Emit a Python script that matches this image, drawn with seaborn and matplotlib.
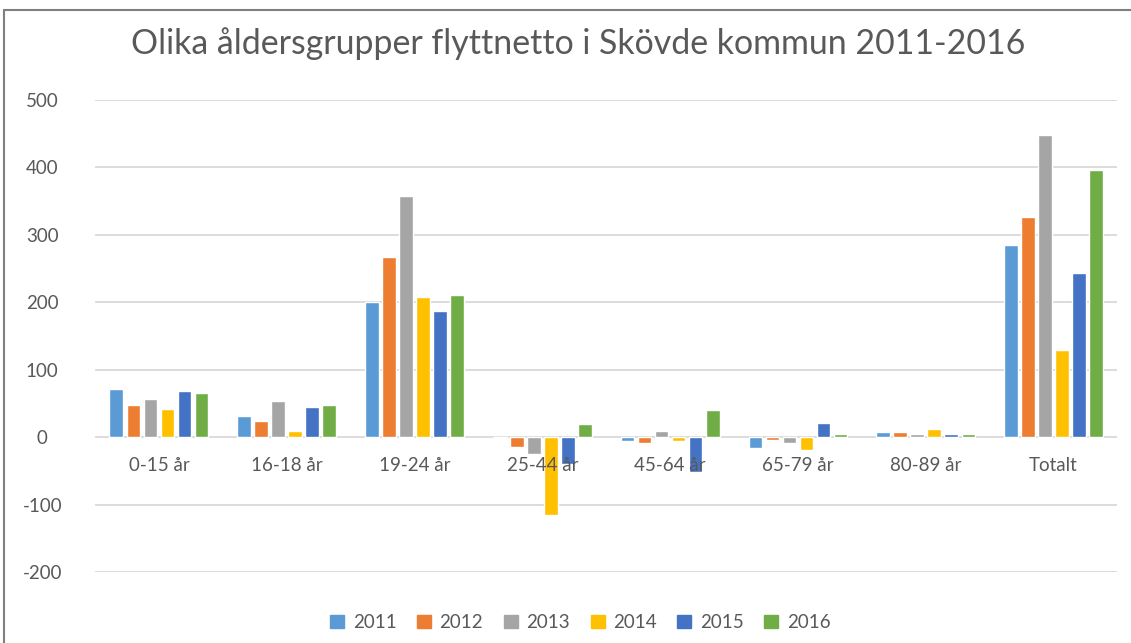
import matplotlib
matplotlib.use("Agg")
import matplotlib.pyplot as plt
import matplotlib.patches as mpatches
import pandas as pd
import seaborn as sns

sns.set_theme(style="white")
plt.rcParams["font.family"] = ["Lato", "DejaVu Sans"]
plt.rcParams["axes.unicode_minus"] = False

GROUPS = ["0-15 år", "16-18 år", "19-24 år", "25-44 år", "45-64 år",
          "65-79 år", "80-89 år", "Totalt"]
YEARS = ["2011", "2012", "2013", "2014", "2015", "2016"]

v2011 = [71, 32, 200, -1, -5, -16, 7, 285]
v2012 = [47, 24, 267, -14, -8, -4, 7, 326]
v2013 = [56, 53, 357, -25, 9, -8, 4, 448]
v2014 = [42, 9, 208, -116, -5, -19, 12, 129]
v2015 = [68, 44, 187, -40, -51, 21, 4, 243]
v2016 = [65, 47, 211, 20, 41, 4, 4, 396]

COLORS = ["#5B9BD5", "#ED7D31", "#A5A5A5", "#FFC000", "#4472C4", "#70AD47"]
TEXT = "#595959"
GRID = "#d9d9d9"

rows = []
for year, vals in zip(YEARS, [v2011, v2012, v2013, v2014, v2015, v2016]):
    for g, v in zip(GROUPS, vals):
        rows.append({"group": g, "year": year, "value": v})
df = pd.DataFrame(rows)

fig = plt.figure(figsize=(11.31, 6.43), dpi=100)
ax = fig.add_axes([0.084, 0.1104, 0.904, 0.7341])

# gridlines as plain lines under the bars, tick labels stay above them
for t in range(-200, 501, 100):
    ax.axhline(t, color=GRID, linewidth=1.3, zorder=0.5)

sns.barplot(data=df, x="group", y="value", hue="year", order=GROUPS,
            hue_order=YEARS, palette=COLORS, width=0.8, gap=0.2,
            saturation=1, ax=ax, legend=False, zorder=1)

ax.set_ylim(-200, 500)
ax.set_yticks(range(-200, 501, 100))
ax.grid(False)
ax.set_axisbelow(False)
ax.set_xlabel("")
ax.set_ylabel("")
ax.spines["bottom"].set_position(("data", 0))
for s in ax.spines.values():
    s.set_visible(False)
ax.tick_params(axis="x", length=0, pad=14, labelsize=13.5, labelcolor=TEXT)
ax.tick_params(axis="y", length=0, pad=38, labelsize=13.5, labelcolor=TEXT)
for lbl in ax.get_yticklabels():
    lbl.set_horizontalalignment("center")

fig.suptitle("Olika åldersgrupper flyttnetto i Skövde kommun 2011-2016",
             x=0.511, y=0.958, fontsize=24.4, color=TEXT)

handles = [mpatches.Patch(color=c, label=y) for c, y in zip(COLORS, YEARS)]
fig.legend(handles=handles, loc="center", bbox_to_anchor=(0.513, 0.032),
           ncol=6, frameon=False, fontsize=13.5, labelcolor=TEXT,
           handlelength=0.75, handleheight=0.75, handletextpad=0.45,
           columnspacing=1.1)

fig.patches.append(mpatches.Rectangle((4 / 1131, -0.1), 1.2, 1.1 - 10 / 643,
                                      transform=fig.transFigure, fill=False,
                                      edgecolor="#7f7f7f", linewidth=1.5))

fig.savefig("out.png", dpi=100)
